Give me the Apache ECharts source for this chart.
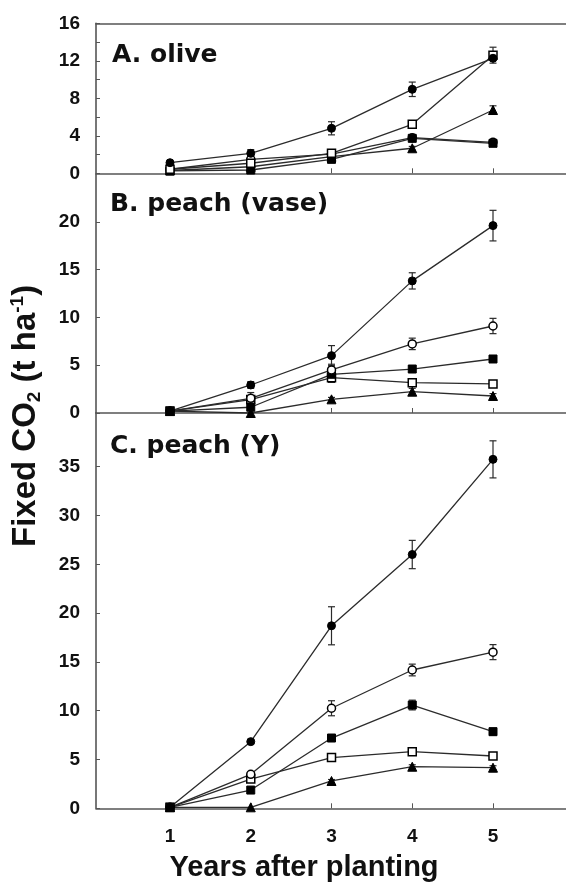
<!DOCTYPE html>
<html><head><meta charset="utf-8">
<script src="https://cdn.jsdelivr.net/npm/echarts@6/dist/echarts.min.js"></script>
<style>html,body{margin:0;padding:0;background:#fff}#c{width:566px;height:884px}</style>
</head><body><div id="c"></div><script>
// ---------- data ----------
const years = [1, 2, 3, 4, 5];

// Panel A. olive
const oliveFilledCircle    = [1.13, 2.13, 4.80, 8.96, 12.27];
const oliveFilledCircleErr = [0.15, 0.40, 0.70, 0.77, 0.20];
const oliveOpenCircle      = [0.43, 1.49, 2.05, 3.80, 3.30];
const oliveOpenCircleErr   = [0, 0, 0, 0, 0];
const oliveFilledSquare    = [0.25, 0.35, 1.49, 3.73, 3.20];
const oliveFilledSquareErr = [0, 0, 0.20, 0.30, 0.25];
const oliveOpenSquare      = [0.43, 1.07, 2.13, 5.22, 12.60];
const oliveOpenSquareErr   = [0, 0, 0.20, 0.25, 0.85];
const oliveTriangle        = [0.30, 0.70, 1.77, 2.67, 6.75];
const oliveTriangleErr     = [0, 0, 0, 0.20, 0.45];

// Panel B. peach (vase)
const vaseFilledCircle    = [0.20, 2.93, 6.00, 13.82, 19.60];
const vaseFilledCircleErr = [0, 0.35, 1.05, 0.85, 1.60];
const vaseOpenCircle      = [0.20, 1.54, 4.50, 7.23, 9.10];
const vaseOpenCircleErr   = [0, 0.60, 0.60, 0.60, 0.80];
const vaseFilledSquare    = [0.20, 0.60, 4.05, 4.60, 5.65];
const vaseFilledSquareErr = [0, 0, 0.20, 0.20, 0.20];
const vaseOpenSquare      = [0.20, 1.40, 3.70, 3.17, 3.04];
const vaseOpenSquareErr   = [0, 0, 0.50, 0.30, 0.20];
const vaseTriangle        = [0.20, 0.00, 1.43, 2.23, 1.78];
const vaseTriangleErr     = [0, 0, 0.20, 0.35, 0.25];

// Panel C. peach (Y)
const yFilledCircle    = [0.10, 6.83, 18.70, 26.00, 35.75];
const yFilledCircleErr = [0, 0.20, 1.95, 1.45, 1.90];
const yOpenCircle      = [0.10, 3.48, 10.25, 14.17, 16.00];
const yOpenCircleErr   = [0, 0.20, 0.77, 0.60, 0.77];
const yFilledSquare    = [0.10, 1.87, 7.20, 10.58, 7.85];
const yFilledSquareErr = [0, 0, 0.30, 0.50, 0.35];
const yOpenSquare      = [0.10, 3.00, 5.20, 5.80, 5.36];
const yOpenSquareErr   = [0, 0, 0.20, 0.20, 0.20];
const yTriangle        = [0.10, 0.10, 2.80, 4.26, 4.16];
const yTriangleErr     = [0, 0, 0.15, 0.20, 0.20];

// tick labels
const oliveTickLabels = [0, 4, 8, 12, 16];
const oliveTickMarks  = [0, 2, 4, 6, 8, 10, 12, 14, 16];
const vaseTickLabels  = [0, 5, 10, 15, 20];
const yTickLabels     = [0, 5, 10, 15, 20, 25, 30, 35];
const xTickLabels     = [1, 2, 3, 4, 5];

const panelTitles = ['A. olive', 'B. peach (vase)', 'C. peach (Y)'];

// ---------- layout / style ----------
const LINE = '#2b2b2b';
const AXIS = '#555';
const TXT = '#111';
const ARIAL = "'Liberation Sans', Arial, sans-serif";
const DEJAVU = "'DejaVu Sans', sans-serif";
const grids = [
  { left: 96, right: 0, top: 23.3, height: 150 },
  { left: 96, right: 0, top: 174, height: 239 },
  { left: 96, right: 0, top: 413, height: 395.3 }
];
const yMax = [16, 25, 40.5];
const XMIN = 0.0836, XMAX = 5.904;

const markerStyles = {
  filledCircle: { symbol: 'circle', symbolSize: 8, itemStyle: { color: '#000', borderColor: '#000', borderWidth: 1 } },
  openCircle:   { symbol: 'circle', symbolSize: 8, itemStyle: { color: '#fff', borderColor: '#000', borderWidth: 1.5 } },
  filledSquare: { symbol: 'rect', symbolSize: 8, itemStyle: { color: '#000', borderColor: '#000', borderWidth: 1 } },
  openSquare:   { symbol: 'rect', symbolSize: 8, itemStyle: { color: '#fff', borderColor: '#000', borderWidth: 1.5 } },
  triangle:     { symbol: 'triangle', symbolSize: 9, itemStyle: { color: '#000', borderColor: '#000', borderWidth: 1 } }
};

const panels = [
  [
    ['openCircle', oliveOpenCircle, oliveOpenCircleErr],
    ['triangle', oliveTriangle, oliveTriangleErr],
    ['filledSquare', oliveFilledSquare, oliveFilledSquareErr],
    ['openSquare', oliveOpenSquare, oliveOpenSquareErr],
    ['filledCircle', oliveFilledCircle, oliveFilledCircleErr]
  ],
  [
    ['triangle', vaseTriangle, vaseTriangleErr],
    ['openSquare', vaseOpenSquare, vaseOpenSquareErr],
    ['filledSquare', vaseFilledSquare, vaseFilledSquareErr],
    ['openCircle', vaseOpenCircle, vaseOpenCircleErr],
    ['filledCircle', vaseFilledCircle, vaseFilledCircleErr]
  ],
  [
    ['triangle', yTriangle, yTriangleErr],
    ['openSquare', yOpenSquare, yOpenSquareErr],
    ['filledSquare', yFilledSquare, yFilledSquareErr],
    ['openCircle', yOpenCircle, yOpenCircleErr],
    ['filledCircle', yFilledCircle, yFilledCircleErr]
  ]
];

function errRender(params, api) {
  const x = api.value(0), lo = api.value(1), hi = api.value(2);
  const a = api.coord([x, lo]), b = api.coord([x, hi]);
  const w = 3.5;
  const st = { stroke: LINE, lineWidth: 1.2 };
  return { type: 'group', children: [
    { type: 'line', shape: { x1: a[0], y1: a[1], x2: b[0], y2: b[1] }, style: st },
    { type: 'line', shape: { x1: a[0] - w, y1: a[1], x2: a[0] + w, y2: a[1] }, style: st },
    { type: 'line', shape: { x1: b[0] - w, y1: b[1], x2: b[0] + w, y2: b[1] }, style: st }
  ]};
}

const series = [];
panels.forEach((pan, gi) => {
  const errData = [];
  pan.forEach(([kind, vals, errs]) => {
    vals.forEach((v, i) => { if (errs[i] > 0) errData.push([years[i], v - errs[i], v + errs[i]]); });
  });
  series.push({ type: 'custom', xAxisIndex: gi, yAxisIndex: gi, z: 1, silent: true,
    renderItem: errRender, data: errData, clip: false });
  pan.forEach(([kind, vals]) => {
    const m = markerStyles[kind];
    series.push({
      type: 'line', xAxisIndex: gi, yAxisIndex: gi, z: 3, silent: true, animation: false,
      data: years.map((x, i) => [x, vals[i]]),
      symbol: m.symbol, symbolSize: m.symbolSize, showAllSymbol: true,
      itemStyle: m.itemStyle,
      lineStyle: { color: LINE, width: 1.3 },
      clip: false
    });
  });
});

const xAxes = grids.map((g, i) => ({
  type: 'value', gridIndex: i, min: XMIN, max: XMAX,
  splitLine: { show: false },
  axisLine: { show: true, onZero: false, lineStyle: { color: AXIS, width: 1.6 } },
  axisTick: { show: true, inside: true, length: 5, customValues: xTickLabels, lineStyle: { color: AXIS, width: 1 } },
  axisLabel: { show: i === 2, customValues: xTickLabels, margin: 19, fontSize: 19, fontWeight: 'bold',
    fontFamily: ARIAL, color: TXT }
}));
// top border of panel A
xAxes.push({ type: 'value', gridIndex: 0, position: 'top', min: XMIN, max: XMAX,
  splitLine: { show: false }, axisTick: { show: false }, axisLabel: { show: false },
  axisLine: { show: true, onZero: false, lineStyle: { color: AXIS, width: 1.6 } } });

const yLabelSets = [oliveTickLabels, vaseTickLabels, yTickLabels];
const yTickSets = [oliveTickMarks, vaseTickLabels, yTickLabels];
const yAxes = grids.map((g, i) => ({
  type: 'value', gridIndex: i, min: 0, max: yMax[i],
  splitLine: { show: false },
  axisLine: { show: true, onZero: false, lineStyle: { color: AXIS, width: 1.6 } },
  axisTick: { show: true, inside: true, length: 4, customValues: yTickSets[i], lineStyle: { color: AXIS, width: 1 } },
  axisLabel: { show: true, customValues: yLabelSets[i], margin: 16, fontSize: 19, fontWeight: 'bold',
    fontFamily: ARIAL, color: TXT }
}));

const titleX = [112, 110, 110];
const titleY = [55.3, 204, 446.4];
const graphics = panelTitles.map((t, i) => ({
  type: 'text', x: titleX[i], y: titleY[i], silent: true,
  style: { text: t, fontSize: 25, fontWeight: 'bold', fontFamily: DEJAVU, fill: TXT,
    align: 'left', verticalAlign: 'middle' }
}));
graphics.push({
  type: 'text', x: 304, y: 867.5, silent: true,
  style: { text: 'Years after planting', fontSize: 29, fontWeight: 'bold', fontFamily: ARIAL, fill: TXT,
    align: 'center', verticalAlign: 'middle' }
});
graphics.push({
  type: 'text', x: 26, y: 547, rotation: Math.PI / 2, silent: true,
  style: {
    text: '{a|Fixed CO}{s|2}{a| (t ha}{p|-1}{a|)}',
    align: 'left', verticalAlign: 'middle', fill: TXT,
    rich: {
      a: { fontSize: 33, fontWeight: 'bold', fontFamily: ARIAL, fill: TXT, lineHeight: 36 },
      s: { fontSize: 19, fontWeight: 'bold', fontFamily: ARIAL, fill: TXT, verticalAlign: 'bottom', lineHeight: 19 },
      p: { fontSize: 19, fontWeight: 'bold', fontFamily: ARIAL, fill: TXT, verticalAlign: 'top', lineHeight: 19 }
    }
  }
});

const chart = echarts.init(document.getElementById('c'), null, { renderer: 'canvas' });
chart.setOption({
  animation: false,
  backgroundColor: '#fff',
  grid: grids,
  xAxis: xAxes,
  yAxis: yAxes,
  series: series,
  graphic: graphics
});
</script></body></html>
